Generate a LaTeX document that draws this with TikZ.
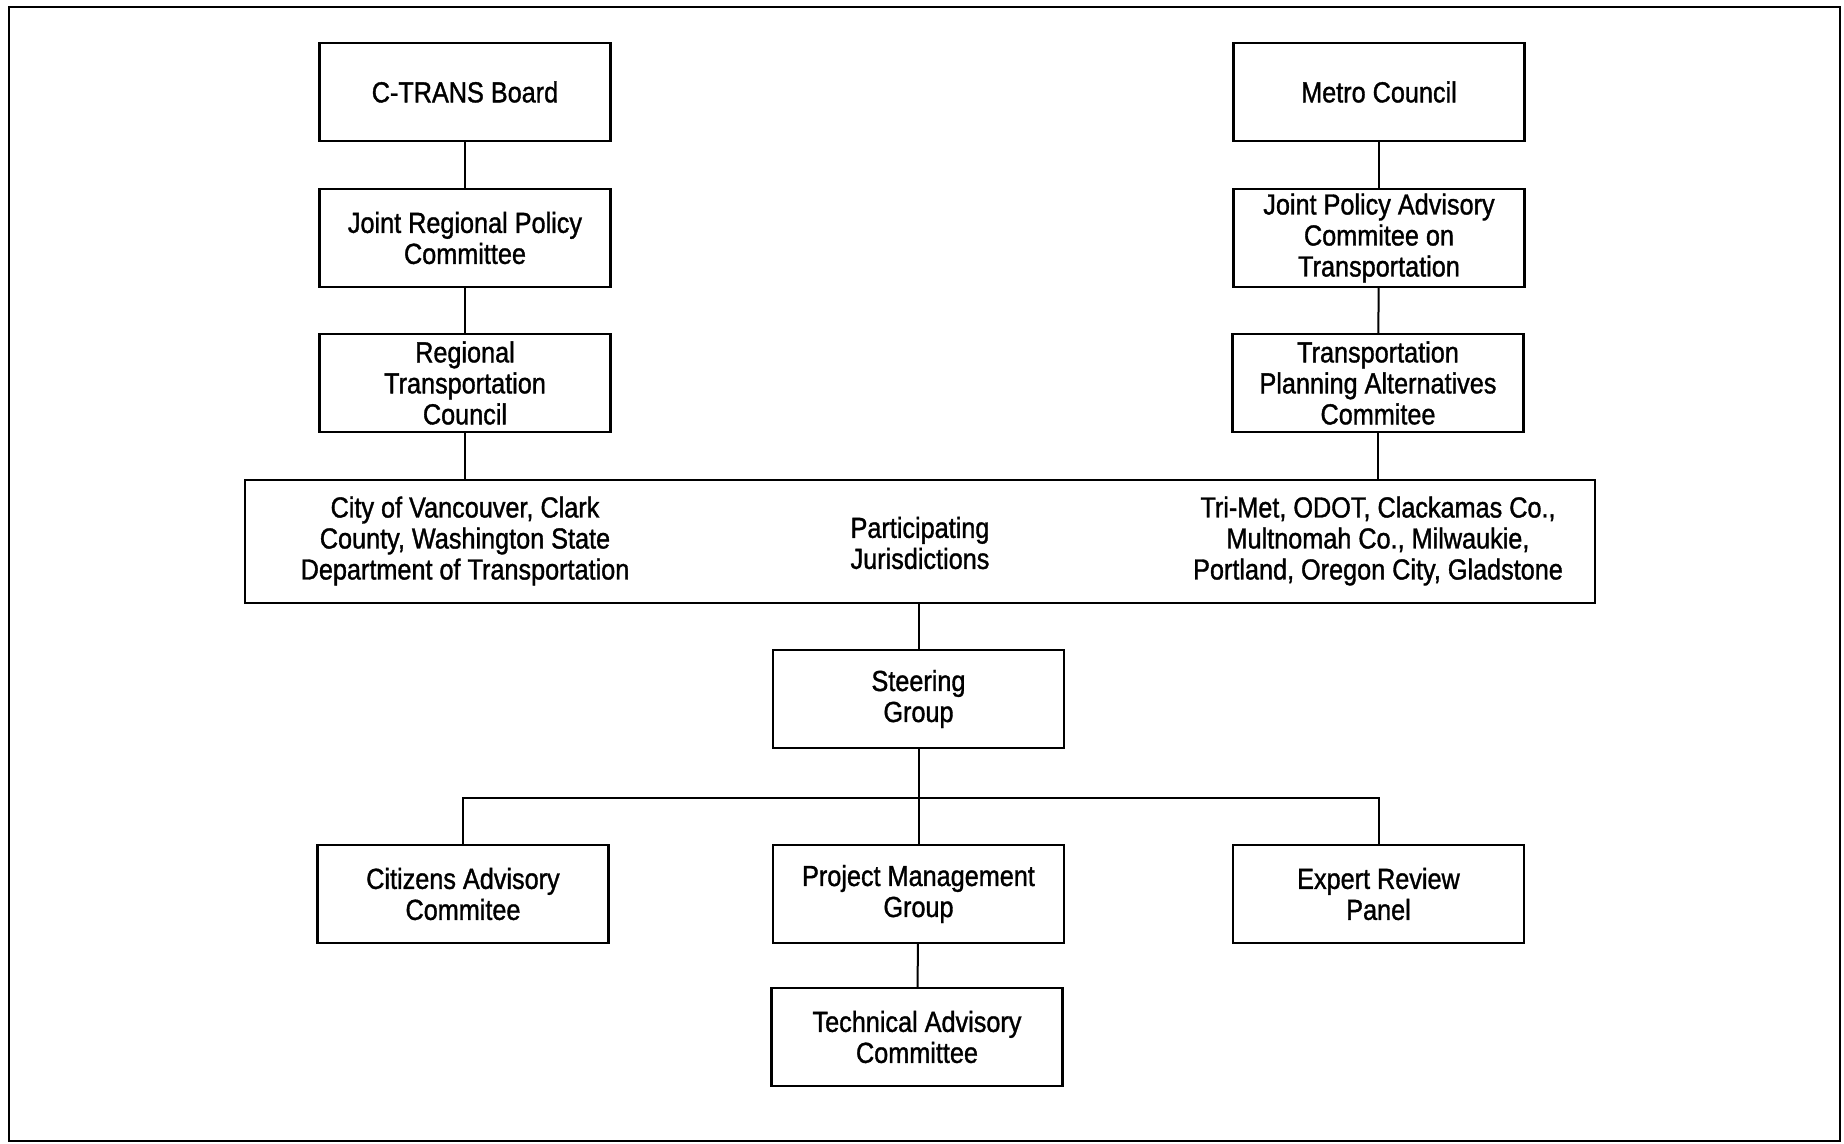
\documentclass[tikz,border=0pt]{standalone}
\usepackage{fontspec}
\setmainfont{Liberation Sans}[FakeStretch=0.87,FakeBold=1.2]
\usepackage{tikz}

\begin{document}
\begin{tikzpicture}[x=0.5pt,y=-0.5pt,
  every node/.style={font=\fontsize{14.5}{15.5}\selectfont},
  box/.style={draw,line width=1.2pt,minimum width=145.5pt,minimum height=49pt,inner sep=0pt,align=center},
  bigbox/.style={draw,line width=1.2pt,minimum width=675pt,minimum height=61.5pt,inner sep=0pt},
  link/.style={line width=1pt}]
  \useasboundingbox (0,0) rectangle (1844,1144);
  \draw[line width=1.2pt] (9,7) rectangle (1840,1141);
  \node[box] (ctrans) at (465,92) {C-TRANS Board};
  \node[box] (jrpc) at (465,238) {Joint Regional Policy\\Committee};
  \node[box] (rtc) at (465,383) {Regional\\Transportation\\Council};
  \node[box] (metro) at (1379,92) {Metro Council};
  \node[box] (jpact) at (1379,238) {Joint Policy Advisory\\Commitee on\\Transportation};
  \node[box] (tpac) at (1378,383) {Transportation\\Planning Alternatives\\Commitee};
  \node[bigbox] (pj) at (920,541.5) {};
  \node[align=center] (pjleft) at (465,541) {City of Vancouver, Clark\\County, Washington State\\Department of Transportation};
  \node[align=center] (pjmid) at (920,543) {Participating\\Jurisdictions};
  \node[align=center] (pjright) at (1378,541) {Tri-Met, ODOT, Clackamas Co.,\\Multnomah Co., Milwaukie,\\Portland, Oregon City, Gladstone};
  \node[box] (steering) at (918.5,699) {Steering\\Group};
  \node[box] (citizens) at (463,894) {Citizens Advisory\\Commitee};
  \node[box] (pmg) at (918.5,894) {Project Management\\Group};
  \node[box] (expert) at (1378.5,894) {Expert Review\\Panel};
  \node[box] (tac) at (917,1037) {Technical Advisory\\Committee};
  \coordinate (bar) at (918.5,798);
  \draw[link] (ctrans) -- (jrpc);
  \draw[link] (jrpc) -- (rtc);
  \draw[link] (rtc) -- (rtc |- pj.north);
  \draw[link] (metro) -- (jpact);
  \draw[link] (jpact) -- (tpac);
  \draw[link] (tpac) -- (tpac |- pj.north);
  \draw[link] (steering |- pj.south) -- (steering);
  \draw[link] (steering) -- (pmg);
  \draw[link] (citizens.north) |- (bar) -| (expert.north);
  \draw[link] (pmg) -- (tac);
\end{tikzpicture}
\end{document}
